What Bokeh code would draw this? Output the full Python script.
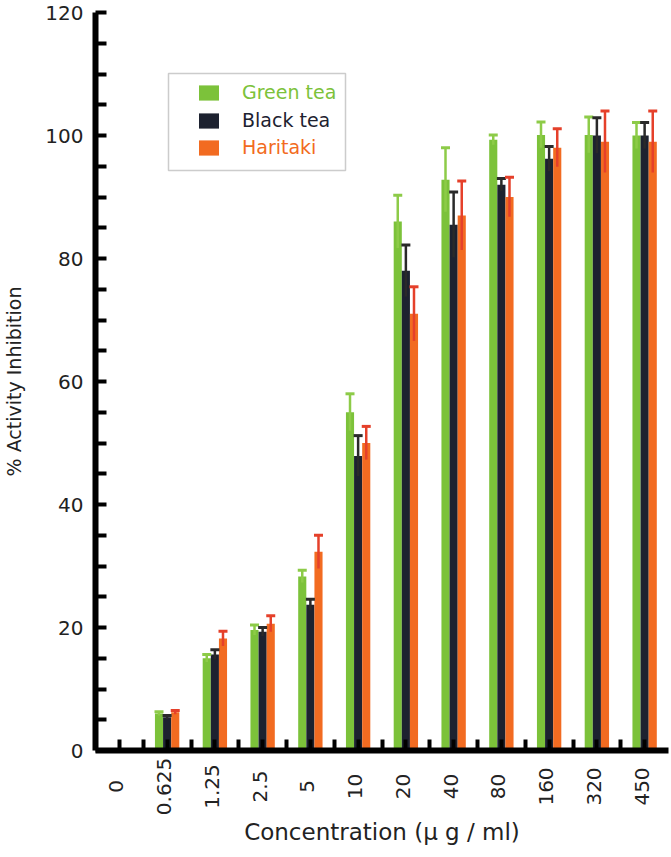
import numpy as np
from bokeh.plotting import figure
from bokeh.layouts import column
from bokeh.models import (Range1d, FixedTicker, Whisker, TeeHead, ColumnDataSource,
                          Legend, LegendItem, BoxAnnotation)
from bokeh.core.properties import value
from bokeh.embed import file_html
from bokeh.resources import INLINE

# ---------------- data ----------------
concentrations = ["0", "0.625", "1.25", "2.5", "5", "10", "20", "40", "80", "160", "320", "450"]
green_tea = [0, 6.0, 15.0, 19.6, 28.3, 55.0, 86.0, 92.8, 99.3, 100.1, 100.1, 100.0]
green_err = [0, 0.3, 0.6, 0.8, 1.0, 3.0, 4.3, 5.2, 0.8, 2.1, 2.9, 2.1]
black_tea = [0, 5.4, 15.6, 19.3, 23.7, 47.9, 78.0, 85.5, 92.0, 96.2, 100.0, 100.0]
black_err = [0, 0.3, 0.8, 0.7, 0.9, 3.3, 4.2, 5.3, 1.0, 2.0, 2.9, 2.1]
haritaki = [0, 6.2, 18.2, 20.6, 32.3, 50.0, 71.0, 87.0, 90.0, 98.0, 99.0, 99.0]
haritaki_err = [0, 0.3, 1.2, 1.3, 2.7, 2.7, 4.4, 5.6, 3.2, 3.1, 5.0, 5.0]
series_names = ["Green tea", "Black tea", "Haritaki"]
y_ticks = [0, 20, 40, 60, 80, 100, 120]
x_title = "Concentration (\u03bc g / ml)"
y_title = "% Activity Inhibition"

# ---------------- style ----------------
FONT = "DejaVu Sans"
GREEN, GREEN_ERR = "#7CC23A", "#8DCB48"
BLACK, BLACK_ERR = "#1D2230", "#2A2A2A"
ORANGE, ORANGE_ERR = "#F26B21", "#E5402A"
TXT = "#222222"
BAR_W = 0.17
FW, FH = 573, 738          # plot frame size in px
LEFT, RIGHT, TOP, BOTTOM = 95, 3, 12, 12
OVERLAP = 8                # label strip slides up under the main plot's bottom border

n = len(concentrations)
idx = np.arange(n)

p = figure(frame_width=FW, frame_height=FH,
           x_range=Range1d(-0.5, n - 0.5), y_range=Range1d(0, 120),
           output_backend="svg", toolbar_location=None,
           min_border_left=LEFT, min_border_right=RIGHT, min_border_top=TOP,
           min_border_bottom=BOTTOM)
p.outline_line_color = None
p.grid.visible = False

series = [
    (series_names[0], green_tea, green_err, GREEN, GREEN_ERR, -BAR_W),
    (series_names[1], black_tea, black_err, BLACK, BLACK_ERR, 0.0),
    (series_names[2], haritaki, haritaki_err, ORANGE, ORANGE_ERR, BAR_W),
]

renderers = []
for name, vals, errs, col, ecol, off in series:
    xs = idx + off
    src = ColumnDataSource(dict(x=xs, top=vals))
    r = p.vbar(x="x", top="top", bottom=0, width=BAR_W, source=src,
               fill_color=col, line_color=None)
    renderers.append((name, r, col))
    keep = [i for i in range(n) if errs[i] > 0]
    esrc = ColumnDataSource(dict(
        base=[xs[i] for i in keep],
        upper=[vals[i] + errs[i] for i in keep],
        lower=[vals[i] - errs[i] for i in keep]))
    w = Whisker(source=esrc, base="base", upper="upper", lower="lower",
                line_color=ecol, line_width=2.5, level="overlay",
                upper_head=TeeHead(size=9, line_color=ecol, line_width=3),
                lower_head=None)
    p.add_layout(w)

# ---------------- axes ----------------
for ax in (p.xaxis[0], p.yaxis[0]):
    ax.axis_line_width = 6
    ax.axis_line_color = "black"
    ax.major_tick_line_width = 4
    ax.minor_tick_line_width = 4
    ax.major_tick_in = 11
    ax.major_tick_out = 0
    ax.minor_tick_in = 11
    ax.minor_tick_out = 0
    ax.axis_label_text_font = FONT
    ax.axis_label_text_font_style = "normal"
    ax.axis_label_text_color = TXT
    ax.major_label_text_font = FONT
    ax.major_label_text_color = TXT

p.yaxis.ticker = FixedTicker(ticks=y_ticks,
                             minor_ticks=[t for t in range(0, 121, 5) if t % 20])
p.yaxis.major_label_text_font_size = "20px"
p.yaxis.major_label_standoff = 12
p.yaxis.axis_label = y_title
p.yaxis.axis_label_text_font_size = "19px"
p.yaxis.axis_label_standoff = 17

# x axis: tick marks at category centres and boundaries, labels drawn below
p.xaxis.ticker = FixedTicker(ticks=[], minor_ticks=[i * 0.5 for i in range(2 * n - 1)])

# ---------------- legend ----------------
row_centres = [91, 119, 146]           # page px from top
for (name, r, col), rc in zip(renderers, row_centres):
    leg = Legend(items=[LegendItem(label=name, renderers=[r])],
                 location=(101, FH - (rc - TOP) - 12),
                 glyph_width=25, glyph_height=19, label_height=19,
                 label_standoff=21, padding=0, margin=0, spacing=0,
                 border_line_color=None, background_fill_alpha=0,
                 label_text_font=FONT, label_text_font_size="19px",
                 label_text_color=col)
    p.add_layout(leg)

def x_px(px):
    return -0.5 + (px - LEFT) / FW * n

def y_px(py):
    return (TOP + FH - py) / FH * 120

p.add_layout(BoxAnnotation(left=x_px(168), right=x_px(345), top=y_px(73), bottom=y_px(170),
                           fill_alpha=0, line_color="#555555", line_width=1.5))

# ---------------- category labels + x title (strip below) ----------------
H2 = 60
p2 = figure(frame_width=FW, frame_height=H2, x_range=p.x_range, y_range=Range1d(0, H2),
            output_backend="svg", toolbar_location=None,
            min_border_left=LEFT, min_border_right=RIGHT, min_border_top=0,
            min_border_bottom=0, margin=(-OVERLAP, 0, 0, 0))
p2.outline_line_color = None
p2.border_fill_alpha = 0
p2.background_fill_alpha = 0
p2.grid.visible = False
p2.yaxis.visible = False
lsrc = ColumnDataSource(dict(x=list(idx), y=[H2 - 32] * n, text=concentrations))
p2.text(x="x", y="y", text="text", source=lsrc, angle=np.pi / 2,
        text_align="center", text_baseline="middle", x_offset=-3,
        text_font=value(FONT), text_font_size="20px", text_color=TXT)
p2.xaxis.ticker = FixedTicker(ticks=[])
p2.xaxis.axis_line_color = None
p2.xaxis.major_tick_line_color = None
p2.xaxis.minor_tick_line_color = None
p2.xaxis.major_label_standoff = 0
p2.xaxis.axis_label = x_title
p2.xaxis.axis_label_text_font = FONT
p2.xaxis.axis_label_text_font_style = "normal"
p2.xaxis.axis_label_text_font_size = "23px"
p2.xaxis.axis_label_text_color = TXT
p2.xaxis.axis_label_standoff = 4

layout = column(p, p2, spacing=0)
open("out.html", "w").write(file_html(layout, INLINE))
